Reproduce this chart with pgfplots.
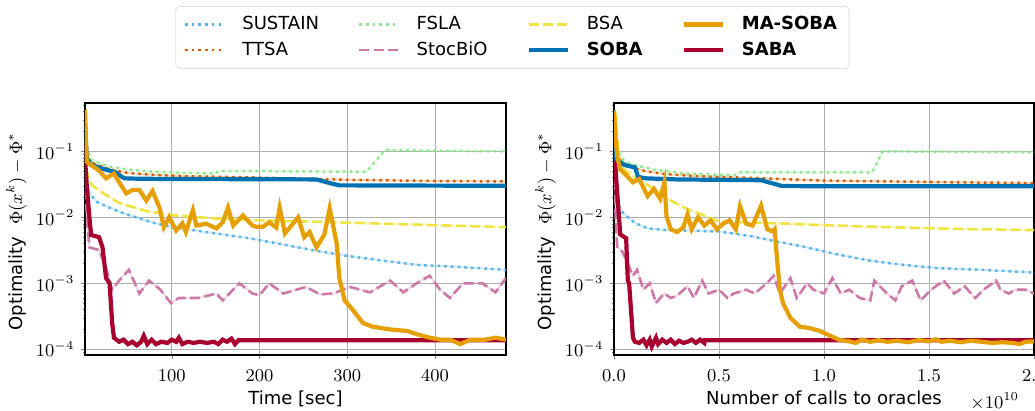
\documentclass[border=0pt]{standalone}
\usepackage{fontspec}
\setmainfont{DejaVu Sans}
\usepackage{pgfplots}
\usepackage{pgfplotstable}
\pgfplotsset{compat=1.18}

\definecolor{cSUS}{HTML}{56B4E9}
\definecolor{cTTSA}{HTML}{D55E00}
\definecolor{cFSLA}{HTML}{8FE88F}
\definecolor{cSTOC}{HTML}{CC79A7}
\definecolor{cBSA}{HTML}{F0E442}
\definecolor{cSOBA}{HTML}{0072B2}
\definecolor{cMA}{HTML}{E69F00}
\definecolor{cSABA}{HTML}{A8002F}

% ---------- left panel: time [sec] ----------
\pgfplotstableread{
x y
1 0.05
3 0.035
6 0.023
15 0.017
29 0.014
45 0.0115
63 0.0096
80 0.0082
101 0.0071
150 0.0057
189 0.0048
230 0.0038
265 0.0031
300 0.0026
341 0.0022
380 0.0019
418 0.0018
481 0.0016
}\tSUSL
\pgfplotstableread{
x y
1 0.12
3 0.08
8 0.068
15 0.062
30 0.053
50 0.047
80 0.044
120 0.042
200 0.040
300 0.037
400 0.0355
481 0.035
}\tTTSAL
\pgfplotstableread{
x y
1 0.3
3 0.12
8 0.075
15 0.068
30 0.058
50 0.053
80 0.049
120 0.047
150 0.046
153 0.050
200 0.050
322 0.049
343 0.105
400 0.102
481 0.10
}\tFSLAL
\pgfplotstableread{
x y
1 0.12
3 0.01
6 0.0035
17 0.0032
25 0.0017
32 0.0008
40 0.0011
51 0.0016
63 0.0007
74 0.0011
87 0.0008
99 0.0005
108 0.0006
116 0.0006
130 0.0006
151 0.0007
158 0.00055
177 0.001
192 0.0007
200 0.00066
211 0.001
227 0.0007
253 0.00088
269 0.00068
284 0.0007
303 0.00088
326 0.00073
349 0.0011
364 0.00073
379 0.001
394 0.0013
406 0.0008
417 0.0006
432 0.001
454 0.001
469 0.00073
481 0.0012
}\tSTOCL
\pgfplotstableread{
x y
1 0.15
3 0.05
6 0.035
10 0.030
20 0.024
40 0.0165
70 0.0125
100 0.0108
150 0.0096
200 0.0090
300 0.0083
400 0.0076
481 0.0071
}\tBSAL
\pgfplotstableread{
x y
1 0.25
3 0.08
8 0.062
20 0.055
36 0.048
42 0.042
46 0.039
60 0.0385
100 0.038
200 0.0378
265 0.0375
280 0.033
291 0.0305
481 0.030
}\tSOBAL
\pgfplotstableread{
x y
1 0.42
2 0.15
3 0.07
8 0.062
17 0.051
25 0.039
34 0.046
40 0.034
48 0.023
55 0.026
63 0.026
71 0.018
78 0.025
86 0.014
91 0.0071
97 0.010
105 0.0063
112 0.0081
116 0.006
124 0.0128
128 0.0075
139 0.008
151 0.0068
158 0.0084
164 0.014
170 0.0075
181 0.0107
192 0.0075
196 0.0072
204 0.0072
211 0.0084
219 0.007
223 0.014
229 0.0057
244 0.010
251 0.005
257 0.006
265 0.0035
274 0.0055
280 0.0137
288 0.004
291 0.0012
297 0.00055
306 0.0004
318 0.00025
329 0.00022
349 0.0002
368 0.00019
379 0.00017
394 0.00015
406 0.00014
417 0.00014
429 0.00012
440 0.00014
457 0.00014
469 0.00015
481 0.00014
}\tMAL
\pgfplotstableread{
x y
1 0.08
3 0.03
6 0.01
8 0.0054
17 0.005
21 0.0035
25 0.0012
29 0.001
32 0.00025
34 0.00015
40 0.00013
45 0.00014
50 0.00012
55 0.00013
60 0.000115
65 0.00013
68 0.00016
72 0.00012
77 0.00014
82 0.00012
88 0.00013
95 0.000125
100 0.00014
105 0.00013
108 0.00015
112 0.00012
118 0.00013
125 0.000125
132 0.00013
140 0.000125
148 0.00013
153 0.00012
158 0.00014
163 0.00013
168 0.000145
172 0.00012
176 0.000137
481 0.000137
}\tSABAL

% ---------- right panel: oracle calls (x 1e10) ----------
\pgfplotstableread{
x y
0.002 0.06
0.015 0.0187
0.03 0.013
0.06 0.0104
0.1 0.0082
0.16 0.0068
0.25 0.0064
0.35 0.0063
0.5 0.0061
0.65 0.0052
0.79 0.0042
0.9 0.0036
1.05 0.0028
1.22 0.0022
1.38 0.0019
1.54 0.0017
1.75 0.0016
2.0 0.00146
}\tSUSR
\pgfplotstableread{
x y
0.002 0.12
0.02 0.08
0.05 0.065
0.1 0.055
0.15 0.05
0.25 0.045
0.4 0.042
0.6 0.040
0.8 0.038
1.0 0.036
1.3 0.035
1.6 0.034
2.0 0.033
}\tTTSAR
\pgfplotstableread{
x y
0.002 0.3
0.02 0.1
0.05 0.07
0.1 0.062
0.2 0.052
0.35 0.046
0.5 0.044
0.58 0.044
0.6 0.048
0.8 0.048
1.0 0.048
1.23 0.048
1.28 0.1
1.5 0.099
2.0 0.097
}\tFSLAR
\pgfplotstableread{
x y
0.0 0.1
0.008 0.01
0.015 0.0036
0.04 0.003
0.06 0.0022
0.09 0.0013
0.11 0.0016
0.14 0.0008
0.17 0.001
0.2 0.0005
0.22 0.0006
0.24 0.0007
0.27 0.0006
0.3 0.00065
0.35 0.0009
0.38 0.0006
0.42 0.0011
0.45 0.0007
0.5 0.0008
0.54 0.0006
0.57 0.0007
0.63 0.0008
0.67 0.0007
0.71 0.0009
0.74 0.0011
0.76 0.0013
0.79 0.0007
0.84 0.0012
0.87 0.0006
0.92 0.001
0.95 0.0008
1.0 0.0007
1.04 0.0012
1.08 0.0007
1.12 0.0008
1.17 0.0006
1.22 0.00055
1.24 0.0011
1.3 0.0007
1.34 0.00055
1.37 0.0009
1.42 0.0011
1.46 0.00055
1.51 0.0008
1.57 0.0011
1.62 0.0007
1.67 0.0009
1.72 0.0006
1.76 0.0008
1.82 0.0011
1.84 0.0008
1.88 0.0007
1.91 0.0008
1.96 0.0008
2.0 0.0007
}\tSTOCR
\pgfplotstableread{
x y
0.0 0.4
0.01 0.34
0.02 0.1
0.03 0.059
0.09 0.042
0.19 0.027
0.27 0.018
0.35 0.0133
0.5 0.0087
0.65 0.0083
0.79 0.0081
1.0 0.0076
1.3 0.0071
1.6 0.0067
2.0 0.0064
}\tBSAR
\pgfplotstableread{
x y
0.0 0.25
0.01 0.075
0.05 0.062
0.1 0.057
0.115 0.041
0.15 0.039
0.3 0.0375
0.5 0.037
0.7 0.0365
0.75 0.033
0.8 0.0298
1.0 0.0295
2.0 0.0295
}\tSOBAR
\pgfplotstableread{
x y
0.0 0.42
0.008 0.15
0.015 0.084
0.03 0.053
0.06 0.043
0.09 0.034
0.12 0.038
0.16 0.021
0.19 0.027
0.22 0.019
0.24 0.034
0.25 0.0104
0.27 0.0066
0.3 0.006
0.33 0.007
0.35 0.011
0.37 0.0066
0.4 0.01
0.43 0.0075
0.46 0.009
0.49 0.0066
0.52 0.008
0.55 0.009
0.58 0.0066
0.6 0.0147
0.63 0.008
0.66 0.0075
0.70 0.015
0.73 0.0066
0.755 0.0061
0.765 0.0066
0.775 0.0026
0.79 0.0008
0.805 0.0005
0.84 0.0003
0.885 0.00022
0.93 0.00021
0.98 0.00019
1.03 0.00016
1.07 0.00014
1.1 0.000135
1.13 0.00013
1.15 0.000125
1.18 0.00014
1.22 0.00013
1.26 0.000138
1.3 0.00013
1.35 0.000135
1.4 0.000128
1.45 0.000138
1.5 0.000132
1.53 0.000142
1.56 0.00013
1.6 0.000135
1.65 0.000128
1.7 0.000135
1.75 0.00013
1.8 0.000125
1.85 0.000128
1.9 0.000125
1.93 0.00012
1.96 0.00013
2.0 0.000132
}\tMAR
\pgfplotstableread{
x y
0.0 0.08
0.005 0.07
0.015 0.024
0.03 0.0055
0.05 0.005
0.058 0.0048
0.062 0.0021
0.066 0.0011
0.072 0.001
0.085 0.00026
0.09 0.00015
0.1 0.00013
0.12 0.000125
0.14 0.00014
0.155 0.000115
0.17 0.00014
0.18 0.00011
0.2 0.00015
0.21 0.00012
0.23 0.00014
0.25 0.000125
0.27 0.00014
0.29 0.00012
0.31 0.000135
0.33 0.000125
0.35 0.00013
0.37 0.00014
0.39 0.000125
0.41 0.00014
0.43 0.000125
0.432 0.000137
2.0 0.000137
}\tSABAR

\tikzset{
  sus/.style={color=cSUS, line width=1.25pt, dash pattern=on 1.25pt off 2.1pt},
  ttsa/.style={color=cTTSA, line width=1.25pt, dash pattern=on 1.25pt off 2.1pt},
  fsla/.style={color=cFSLA, line width=1.25pt, dash pattern=on 1.25pt off 2.1pt},
  stoc/.style={color=cSTOC, line width=1.3pt, dash pattern=on 5pt off 2.2pt},
  bsa/.style={color=cBSA, line width=1.3pt, dash pattern=on 5pt off 2.2pt},
  soba/.style={color=cSOBA, line width=2.1pt},
  ma/.style={color=cMA, line width=2.1pt},
  saba/.style={color=cSABA, line width=2.1pt},
  pale/.style={solid, opacity=0.3, line width=0.9pt},
}

\begin{document}
\begin{tikzpicture}
\begin{axis}[
  scale only axis, width=210.5pt, height=126pt,
  at={(42.5pt,28pt)}, anchor=south west,
  ymode=log, ymin=8.2e-5, ymax=0.54,
  ytick={1e-4,1e-3,1e-2,1e-1},
  minor ytick={9e-5,2e-4,3e-4,4e-4,5e-4,6e-4,7e-4,8e-4,9e-4,2e-3,3e-3,4e-3,5e-3,6e-3,7e-3,8e-3,9e-3,2e-2,3e-2,4e-2,5e-2,6e-2,7e-2,8e-2,9e-2,0.2,0.3,0.4,0.5},
  xmin=1, xmax=481, xtick={100,200,300,400},
  grid=major, grid style={color=black!31, line width=0.45pt},
  axis line style={line width=0.6pt},
  tick align=outside, tick pos=left,
  major tick length=1.8pt, minor tick length=1pt,
  tick label style={font=\fontsize{9}{11}\selectfont},
  xticklabel style={yshift=-2pt},
  label style={font=\fontsize{9}{11}\selectfont},
  xlabel={Time [sec]},
  ylabel={Optimality\hspace{6pt}$\Phi(x^k) - \Phi^*$},
  ylabel style={at={(axis description cs:-0.163,0.49)}, anchor=center},
  xlabel style={at={(axis description cs:0.5,-0.198)}, anchor=base},
  legend image code/.code={\draw[#1] (0pt,0pt) -- (19.5pt,0pt);},
  legend columns=4,
  legend cell align=left,
  legend style={at={(axis description cs:1.0154,1.385)}, anchor=north,
    draw=black!12, rounded corners=2pt, fill=white,
    font=\fontsize{9}{11}\selectfont,
    inner xsep=4pt, inner ysep=3pt, row sep=0.5pt,
    /tikz/every odd column/.append style={column sep=6.5pt},
    /tikz/every even column/.append style={column sep=17.5pt}},
]
\addplot[sus, pale, forget plot] table {\tSUSL};
\addplot[sus, forget plot] table {\tSUSL};
\addplot[ttsa, pale, forget plot] table {\tTTSAL};
\addplot[ttsa, forget plot] table {\tTTSAL};
\addplot[fsla, pale, forget plot] table {\tFSLAL};
\addplot[fsla, forget plot] table {\tFSLAL};
\addplot[stoc, pale, forget plot] table {\tSTOCL};
\addplot[stoc, forget plot] table {\tSTOCL};
\addplot[bsa, pale, forget plot] table {\tBSAL};
\addplot[bsa, forget plot] table {\tBSAL};
\addplot[saba, forget plot] table {\tSABAL};
\addplot[soba, forget plot] table {\tSOBAL};
\addplot[ma, forget plot] table {\tMAL};

\addlegendimage{sus}\addlegendentry{SUSTAIN}
\addlegendimage{fsla}\addlegendentry{FSLA}
\addlegendimage{bsa}\addlegendentry{BSA}
\addlegendimage{ma}\addlegendentry{\textbf{MA-SOBA}}
\addlegendimage{ttsa}\addlegendentry{TTSA}
\addlegendimage{stoc}\addlegendentry{StocBiO}
\addlegendimage{soba}\addlegendentry{\textbf{SOBA}}
\addlegendimage{saba}\addlegendentry{\textbf{SABA}}
\end{axis}

\begin{axis}[
  scale only axis, width=210pt, height=126pt,
  at={(307pt,28pt)}, anchor=south west,
  clip mode=individual,
  ymode=log, ymin=8.2e-5, ymax=0.54,
  ytick={1e-4,1e-3,1e-2,1e-1},
  minor ytick={9e-5,2e-4,3e-4,4e-4,5e-4,6e-4,7e-4,8e-4,9e-4,2e-3,3e-3,4e-3,5e-3,6e-3,7e-3,8e-3,9e-3,2e-2,3e-2,4e-2,5e-2,6e-2,7e-2,8e-2,9e-2,0.2,0.3,0.4,0.5},
  xmin=0, xmax=2, xtick={0,0.5,1,1.5,2},
  xticklabels={$0.0$,$0.5$,$1.0$,$1.5$,$2.0$},
  grid=major, grid style={color=black!31, line width=0.45pt},
  axis line style={line width=0.6pt},
  tick align=outside, tick pos=left,
  major tick length=1.8pt, minor tick length=1pt,
  tick label style={font=\fontsize{9}{11}\selectfont},
  xticklabel style={yshift=-2pt},
  label style={font=\fontsize{9}{11}\selectfont},
  xlabel={Number of calls to oracles},
  ylabel={Optimality\hspace{6pt}$\Phi(x^k) - \Phi^*$},
  ylabel style={at={(axis description cs:-0.163,0.49)}, anchor=center},
  xlabel style={at={(axis description cs:0.5,-0.198)}, anchor=base},
]
\addplot[sus, pale] table {\tSUSR};
\addplot[sus] table {\tSUSR};
\addplot[ttsa, pale] table {\tTTSAR};
\addplot[ttsa] table {\tTTSAR};
\addplot[fsla, pale] table {\tFSLAR};
\addplot[fsla] table {\tFSLAR};
\addplot[stoc, pale] table {\tSTOCR};
\addplot[stoc] table {\tSTOCR};
\addplot[bsa, pale] table {\tBSAR};
\addplot[bsa] table {\tBSAR};
\addplot[saba] table {\tSABAR};
\addplot[soba] table {\tSOBAR};
\addplot[ma] table {\tMAR};
\node[anchor=base east, font=\fontsize{9}{11}\selectfont] at (axis description cs:0.981,-0.212) {$\times 10^{10}$};
\end{axis}

\pgfresetboundingbox
\path[use as bounding box] (0,0) rectangle (517.5pt,205.5pt);
\end{tikzpicture}
\end{document}
